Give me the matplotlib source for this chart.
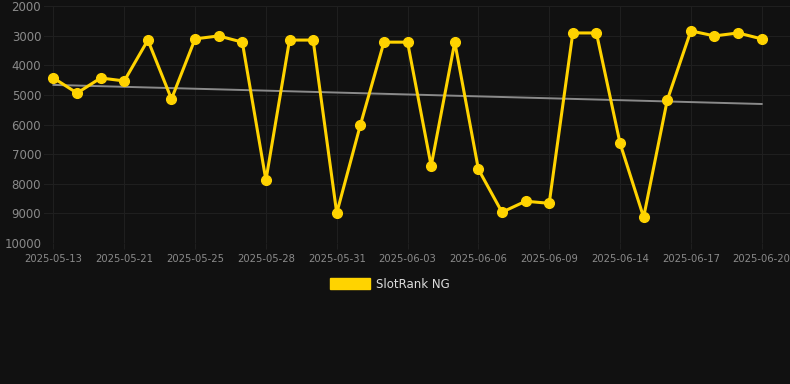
import numpy as np
import matplotlib
matplotlib.use("Agg")
import matplotlib.pyplot as plt
from matplotlib.patches import Patch

dates = ["2025-05-13", "2025-05-15", "2025-05-17", "2025-05-21", "2025-05-22", "2025-05-23",
         "2025-05-25", "2025-05-26", "2025-05-27", "2025-05-28", "2025-05-29", "2025-05-30",
         "2025-05-31", "2025-06-01", "2025-06-02", "2025-06-03", "2025-06-04", "2025-06-05",
         "2025-06-06", "2025-06-07", "2025-06-08", "2025-06-09", "2025-06-10", "2025-06-12",
         "2025-06-14", "2025-06-15", "2025-06-16", "2025-06-17", "2025-06-18", "2025-06-19",
         "2025-06-20"]
ranks = [4430, 4940, 4430, 4530, 3150, 5140, 3110, 3010, 3220, 7880, 3150, 3150,
         8990, 6020, 3220, 3220, 7400, 3220, 7510, 8960, 8590, 8660, 2910, 2910,
         6630, 9130, 5180, 2840, 3010, 2910, 3110]
series_name = "SlotRank NG"
y_ticks = [2000, 3000, 4000, 5000, 6000, 7000, 8000, 9000, 10000]

bg = "#111111"
gold = "#FFD300"

fig = plt.figure(figsize=(7.9, 3.84), dpi=100, facecolor=bg)
ax = fig.add_axes([44/790, 1-243/384, (790-44)/790, (243-6)/384])
ax.set_facecolor(bg)

x = np.arange(len(ranks))
coef = np.polyfit(x, ranks, 1)
ax.plot(x, np.polyval(coef, x), color="#8a8a8a", lw=1.4, zorder=2)
ax.plot(x, ranks, color=gold, lw=2.2, marker="o", markersize=7, zorder=3)

ax.set_ylim(10000, 2000)
ax.set_yticks(y_ticks)
ax.set_yticklabels([str(v) for v in y_ticks])
ax.set_xlim(-0.4, 31.2)
ax.set_xticks(x[::3])
ax.set_xticklabels([dates[i] for i in x[::3]])

ax.grid(True, color="#1f1f1f", lw=0.8)
ax.set_axisbelow(True)
for s in ax.spines.values():
    s.set_visible(False)
ax.tick_params(axis="y", length=0, colors="#8a8a8a", labelsize=8.5, pad=2)
ax.tick_params(axis="x", length=4, color="#1f1f1f", colors="#8a8a8a", labelsize=7.2, pad=4)

fig.legend(handles=[Patch(facecolor=gold, edgecolor=gold)], labels=[series_name],
           loc="center", bbox_to_anchor=(390/790, 1-284/384), frameon=False,
           fontsize=8.5, labelcolor="#dddddd", handlelength=3.4, handleheight=1.0,
           handletextpad=0.5)

fig.savefig("out.png", dpi=100, facecolor=bg)
